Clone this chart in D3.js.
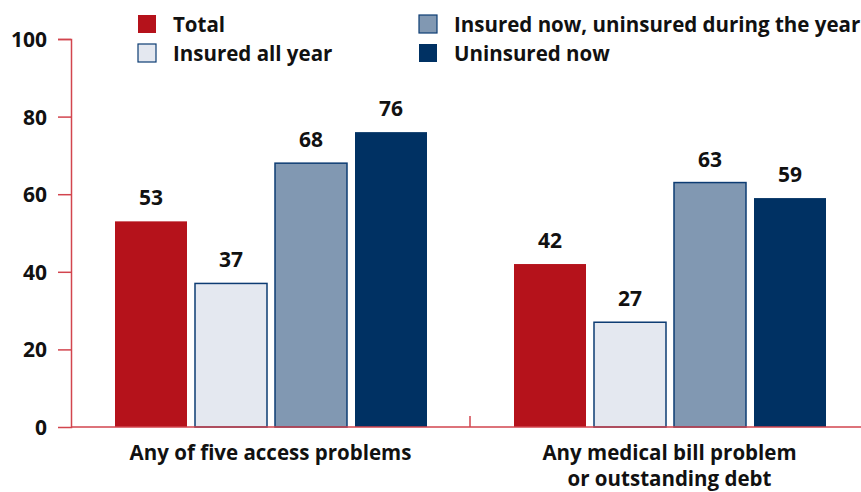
<!DOCTYPE html>
<html><head><meta charset="utf-8">
<script src="https://cdn.jsdelivr.net/npm/d3@7"></script>
<style>
body{margin:0;background:#fff;}
text{font-family:"Open Sans",sans-serif;font-weight:700;fill:#111;}
</style></head>
<body><svg id="c" width="861" height="492"></svg>
<script>
const categories = [["Any of five access problems"], ["Any medical bill problem", "or outstanding debt"]];
const seriesNames = ["Total", "Insured all year", "Insured now, uninsured during the year", "Uninsured now"];
const total = [53, 42];
const insuredAllYear = [37, 27];
const insuredNowUninsuredDuring = [68, 63];
const uninsuredNow = [76, 59];
const yTicks = [0, 20, 40, 60, 80, 100];

const seriesValues = [total, insuredAllYear, insuredNowUninsuredDuring, uninsuredNow];
const fills = ["#b5121b", "#e4e8f0", "#8198b2", "#003163"];
const strokes = ["none", "#0d3c73", "#0d3c73", "none"];
const axisColor = "#d2454e";

const svg = d3.select("#c");
const x0 = d3.scaleBand().domain(d3.range(categories.length)).range([71, 869]);
const x1 = d3.scaleBand().domain(d3.range(seriesNames.length)).range([40, 360]).paddingInner(0.1).paddingOuter(0.05);
const y = d3.scaleLinear().domain([0, 100]).range([427, 39]);

// axes
const ya = svg.append("g").attr("transform", "translate(71,0)")
  .call(d3.axisLeft(y).tickValues(yTicks).tickSize(13).tickFormat(d3.format("d")));
ya.select(".domain").attr("stroke", axisColor).attr("stroke-width", 1.5);
ya.selectAll(".tick line").attr("stroke", axisColor).attr("stroke-width", 1.5)
  .attr("display", d => d === 0 ? "none" : null);
ya.selectAll(".tick text").attr("x", -24).attr("dy", "0.36em").style("font-size", "21px")
  .style("font-family", "'Open Sans',sans-serif").style("font-weight", 700).attr("fill", "#111");

// groups
const groups = svg.append("g").selectAll("g").data(categories).join("g")
  .attr("transform", (d, i) => `translate(${x0(i)},0)`);
groups.selectAll("rect").data((d, i) => seriesValues.map((s, k) => ({k, v: s[i]}))).join("rect")
  .attr("x", d => x1(d.k)).attr("width", x1.bandwidth())
  .attr("y", d => y(d.v)).attr("height", d => y(0) - y(d.v))
  .attr("fill", d => fills[d.k]).attr("stroke", d => strokes[d.k]).attr("stroke-width", 1.5);
groups.selectAll("text.val").data((d, i) => seriesValues.map((s, k) => ({k, v: s[i]}))).join("text")
  .attr("class", "val").attr("x", d => x1(d.k) + x1.bandwidth() / 2).attr("y", d => y(d.v) - 16)
  .attr("text-anchor", "middle").style("font-size", "21px").text(d => d.v);

// x axis line
svg.append("line").attr("x1", 71).attr("x2", 861).attr("y1", y(0)).attr("y2", y(0))
  .attr("stroke", axisColor).attr("stroke-width", 1.5);
svg.append("line").attr("x1", x0(1)).attr("x2", x0(1)).attr("y1", y(0)).attr("y2", y(0) - 11)
  .attr("stroke", axisColor).attr("stroke-width", 1.5);

// category labels
groups.each(function(d, i) {
  const t = d3.select(this).append("text").attr("text-anchor", "middle").style("font-size", "20.5px");
  d.forEach((line, j) => t.append("tspan").attr("x", x0.bandwidth() / 2).attr("y", 460 + j * 26).text(line));
});

// legend
const legPos = [[138, 15], [138, 44], [419, 15], [419, 44]];
const leg = svg.append("g").selectAll("g").data(seriesNames).join("g")
  .attr("transform", (d, i) => `translate(${legPos[i][0]},${legPos[i][1]})`);
leg.append("rect").attr("width", 18).attr("height", 18)
  .attr("fill", (d, i) => fills[i]).attr("stroke", (d, i) => strokes[i]).attr("stroke-width", 1.2);
leg.append("text").attr("x", 35).attr("y", 16.5).style("font-size", "20.5px").text(d => d);
</script></body></html>
